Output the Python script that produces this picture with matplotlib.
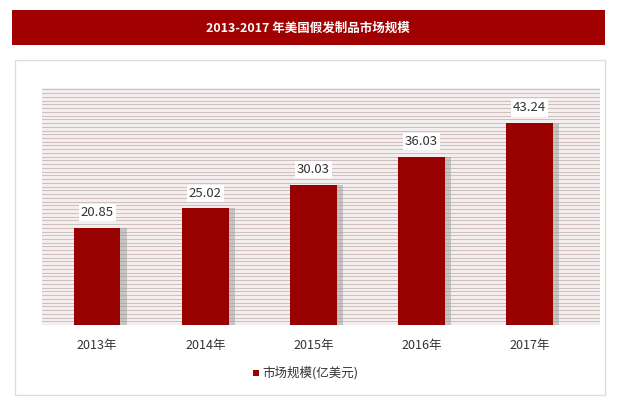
import matplotlib
matplotlib.use("Agg")
import matplotlib.pyplot as plt
from matplotlib.patches import Rectangle

plt.rcParams["font.family"] = ["Noto Sans CJK SC"]

years = ["2013年", "2014年", "2015年", "2016年", "2017年"]
values = [20.85, 25.02, 30.03, 36.03, 43.24]
title = "2013-2017 年美国假发制品市场规模"
legend_label = "市场规模(亿美元)"

W, H = 618, 405
fig = plt.figure(figsize=(W/100, H/100), dpi=100)
fig.patch.set_facecolor("white")

fig.patches.append(Rectangle((12/W, 1-45/H), 593/W, 35/H, transform=fig.transFigure,
                             facecolor="#a00000", edgecolor="none"))
fig.text(308/W, 1-28/H, title, ha="center", va="center", color="white",
         fontsize=9, fontweight="bold")
fig.patches.append(Rectangle((15/W, 1-395/H), 590/W, 335/H, transform=fig.transFigure,
                             facecolor="none", edgecolor="#dddddd", lw=1))

ax = fig.add_axes([42/W, 1-325/H, 558/W, 237/H])
ax.set_facecolor("#f4eeee")
ymax = 50.7
ax.set_ylim(0, ymax)
ax.set_xlim(-0.51, 4.65)
for y in [i*0.8 for i in range(int(ymax/0.8)+1)]:
    ax.axhline(y, color="#c8b8b8", lw=0.6, zorder=0)
x = list(range(len(years)))
ax.bar([i+0.06 for i in x], values, width=0.43, color="#999999", alpha=0.5, zorder=1)
ax.bar(x, values, width=0.43, color="#990000", zorder=2)
for i, v in zip(x, values):
    ax.text(i, v+1.8, f"{v:.2f}", ha="center", va="bottom", fontsize=9.5, color="#333333",
            bbox=dict(facecolor="white", edgecolor="none", pad=1.5), zorder=3)
ax.set_xticks(x)
ax.set_xticklabels(years, fontsize=9, color="#333333")
ax.set_yticks([])
ax.tick_params(axis="x", length=0, pad=10)
for s in ax.spines.values():
    s.set_visible(False)

fig.patches.append(Rectangle((253/W, 1-376/H), 6/W, 6/H, transform=fig.transFigure,
                             facecolor="#990000", edgecolor="none"))
fig.text(262/W, 1-373/H, legend_label, ha="left", va="center", fontsize=9, color="#333333")

fig.savefig("out.png", dpi=100)
